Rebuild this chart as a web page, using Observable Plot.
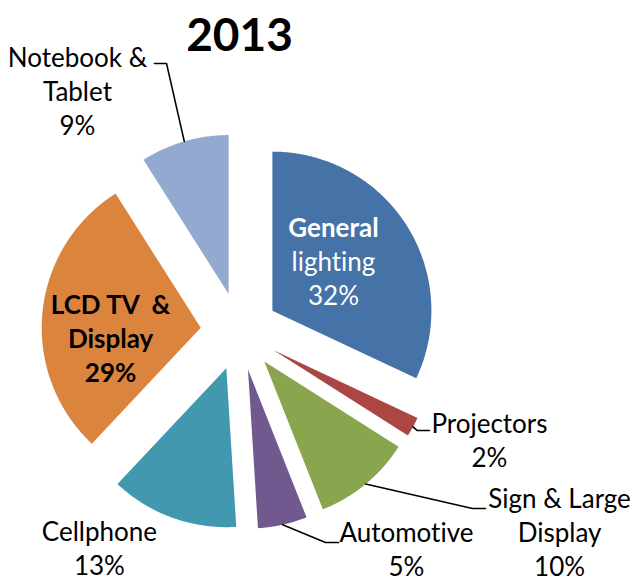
<!DOCTYPE html>
<html><head><meta charset="utf-8">
<script src="https://cdn.jsdelivr.net/npm/d3@7"></script>
<script src="https://cdn.jsdelivr.net/npm/@observablehq/plot@0.6"></script>
<style>body{margin:0;background:#fff} svg text{font-variant-ligatures:none;font-feature-settings:"liga" 0}</style>
</head><body><div id="chart"></div>
<script>
// ---- data ----
const title = "2013";
const categories = ["General lighting", "Projectors", "Sign & Large Display", "Automotive", "Cellphone", "LCD TV & Display", "Notebook & Tablet"];
const shares = [32, 2, 10, 5, 13, 29, 9];
const labelLines = [["General", "lighting"], ["Projectors"], ["Sign & Large", "Display"], ["Automotive"], ["Cellphone"], ["LCD TV  &", "Display"], ["Notebook &", "Tablet"]];
const colors = ["#4572A7", "#AA4643", "#89A54E", "#71588F", "#4198AF", "#DB843D", "#93A9CF"];

// ---- layout (radius units, pie centre = 0,0) ----
const R = 159, CX = 239, CY = 331, W = 633, H = 581;
const explode = 0.245;
const lineStep = 34 / R;
const labelPos = [
  {x: 0.591, y: 0.434, inside: true, boldLines: [0], fill: "white"},
  {x: 1.572, y: -0.695},
  {x: 2.013, y: -1.272},
  {x: 1.050, y: -1.380},
  {x: -0.881, y: -1.374},
  {x: -0.811, y: -0.050, inside: true, boldLines: [0, 1, 2], fill: "black"},
  {x: -1.019, y: 1.503}
];
const leaders = [
  {i: 6, pts: [[-0.459, 1.686], [-0.535, 1.686]]},
  {i: 1, pts: [[1.119, -0.623], [1.195, -0.623]]},
  {i: 2, pts: [[1.465, -1.113], [1.547, -1.113]]},
  {i: 3, pts: [[0.541, -1.327], [0.623, -1.327]]}
];

const arcs = d3.pie().sort(null).value(d => d)(shares);
const slices = arcs.map((p, i) => {
  const mid = (p.startAngle + p.endAngle) / 2;
  const ox = explode * Math.sin(mid), oy = explode * Math.cos(mid);
  const pts = [{x: ox, y: oy}];
  const n = Math.max(10, Math.ceil((p.endAngle - p.startAngle) / 0.005));
  for (let k = 0; k <= n; k++) {
    const a = p.startAngle + (p.endAngle - p.startAngle) * k / n;
    pts.push({x: ox + Math.sin(a), y: oy + Math.cos(a)});
  }
  pts.push({x: ox, y: oy});
  return {pts, mid: {x: ox + Math.sin(mid), y: oy + Math.cos(mid)}};
});

const textRows = [];
labelPos.forEach((L, i) => {
  const lines = [...labelLines[i], shares[i] + "%"];
  const n = lines.length;
  lines.forEach((t, k) => {
    textRows.push({
      text: t, x: L.x, y: L.y - (k - (n - 1) / 2) * lineStep,
      bold: L.boldLines ? L.boldLines.includes(k) : false,
      fill: L.fill || "black"
    });
  });
});

const leaderRows = leaders.flatMap(l => [
  {id: l.i, x: slices[l.i].mid.x, y: slices[l.i].mid.y},
  ...l.pts.map(p => ({id: l.i, x: p[0], y: p[1]}))
]);

const font = "Lato, Carlito, Calibri, sans-serif";
const chart = Plot.plot({
  width: W, height: H, margin: 0,
  style: {fontFamily: font, background: "white"},
  x: {domain: [-CX / R, (W - CX) / R], range: [0, W], axis: null},
  y: {domain: [(CY - H) / R, CY / R], range: [H, 0], axis: null},
  color: {type: "identity"},
  marks: [
    ...slices.map((s, i) => Plot.line(s.pts, {x: "x", y: "y", fill: colors[i], stroke: "none", curve: "linear"})),
    Plot.line(leaderRows, {x: "x", y: "y", z: "id", stroke: "black", strokeWidth: 1.6}),
    Plot.text(textRows.filter(d => d.bold), {x: "x", y: "y", text: "text", fill: "fill", fontWeight: "bold", fontSize: 26, textAnchor: "middle"}),
    Plot.text(textRows.filter(d => !d.bold), {x: "x", y: "y", text: "text", fill: "fill", fontSize: 26, textAnchor: "middle"}),
    Plot.text([title], {x: () => 0, y: () => 1.855, text: d => d, fontWeight: "bold", fontSize: 46, textAnchor: "middle", fill: "black"})
  ]
});
document.getElementById("chart").appendChild(chart);
</script>
</body></html>
